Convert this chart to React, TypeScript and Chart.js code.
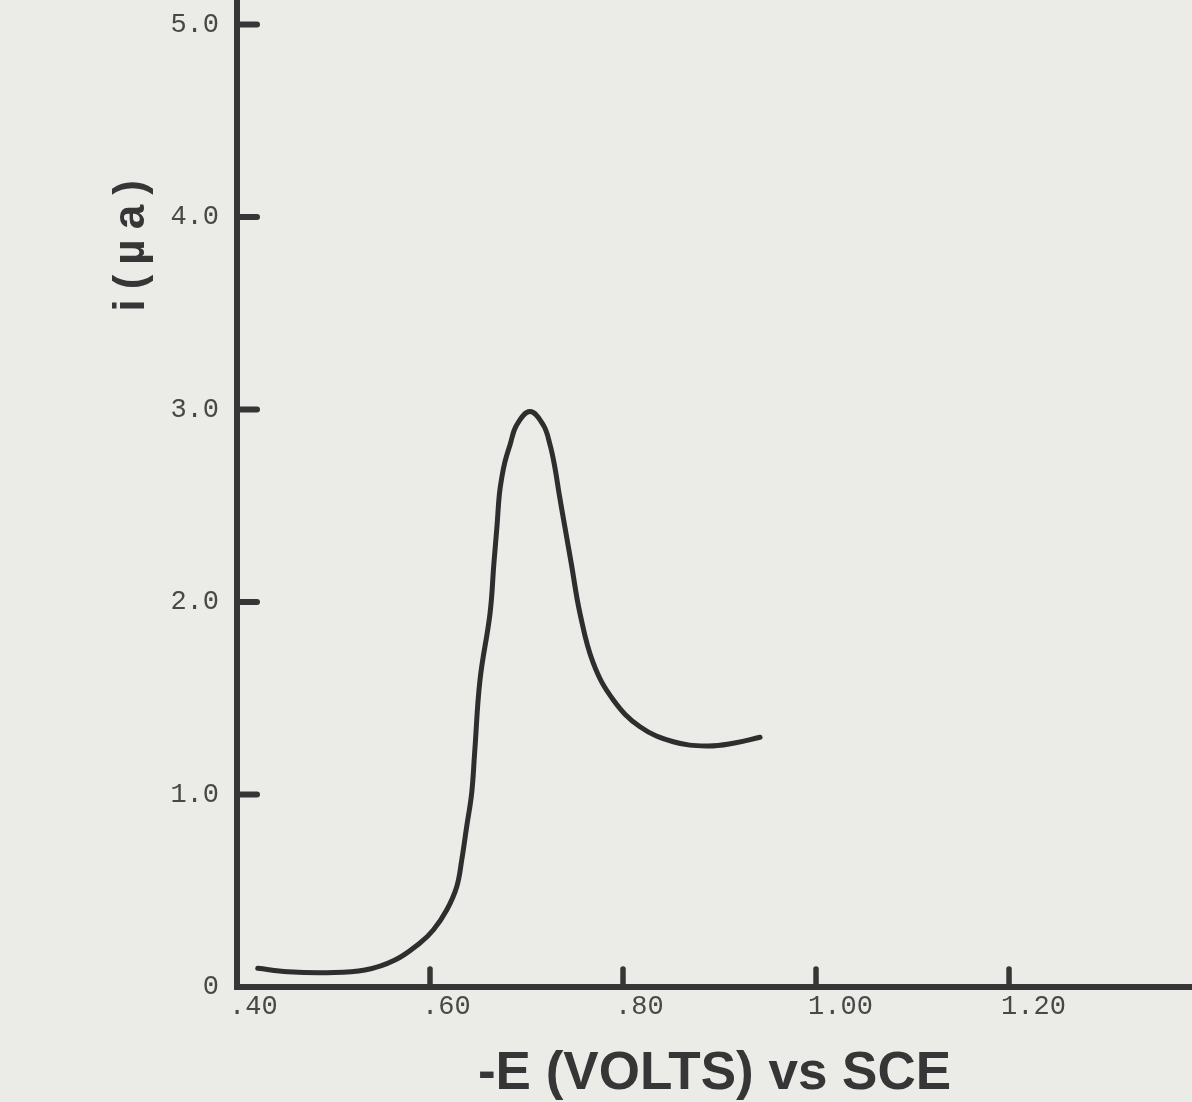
import React, { useEffect, useRef } from 'react';
import { Chart, registerables } from 'chart.js';

Chart.register(...registerables);

// Polarogram: -E (volts vs SCE) against current i (µA)
const potentialV = [
  0.4215, 0.4528, 0.4933, 0.5326, 0.5637, 0.5896, 0.6034, 0.6173, 0.6277, 0.6329,
  0.638, 0.6432, 0.6463, 0.6518, 0.6622, 0.6662, 0.6695, 0.6718, 0.6743, 0.6777,
  0.6829, 0.6898, 0.7036, 0.7174, 0.7244, 0.7295, 0.734, 0.7394, 0.7464, 0.7554,
  0.7692, 0.79, 0.8176, 0.8521, 0.8867, 0.9143, 0.942,
];
const currentUA = [
  0.097, 0.079, 0.074, 0.088, 0.14, 0.229, 0.296, 0.4, 0.521, 0.66,
  0.833, 1.008, 1.22, 1.595, 1.941, 2.2, 2.4, 2.556, 2.644, 2.729,
  2.816, 2.919, 2.989, 2.919, 2.816, 2.696, 2.556, 2.4, 2.2, 1.941,
  1.682, 1.491, 1.352, 1.274, 1.252, 1.266, 1.297,
];

const xTickValues = [0.4, 0.6, 0.8, 1.0, 1.2];
const xTickLabels = ['.40', '.60', '.80', '1.00', '1.20'];
const yTickValues = [0, 1, 2, 3, 4, 5];
const yTickLabels = ['0', '1.0', '2.0', '3.0', '4.0', '5.0'];

const xTitle = '-E (VOLTS) vs SCE';
const yTitle = 'i(µa)';

const X_MIN = 0.4;
const X_MAX = 1.3896;
const Y_MIN = 0;
const Y_MAX = 5.127;

const PAPER = '#ebebe7';
const INK = '#363636';
const LABEL_INK = '#484848';

const W = 1192;
const CANVAS_H = 1127;
const CANVAS_TOP = -25;

function labelFor(values: number[], labels: string[], v: number): string {
  for (let i = 0; i < values.length; i++) {
    if (Math.abs(values[i] - v) < 1e-6) return labels[i];
  }
  return '';
}

const innerTicks = {
  id: 'innerTicks',
  afterDraw(chart: any) {
    const { ctx, chartArea, scales } = chart;
    ctx.save();
    ctx.strokeStyle = INK;
    ctx.lineCap = 'round';
    ctx.lineWidth = 6;
    for (const t of scales.y.ticks) {
      if (t.value <= Y_MIN + 1e-6) continue;
      const py = scales.y.getPixelForValue(t.value);
      ctx.beginPath();
      ctx.moveTo(chartArea.left, py);
      ctx.lineTo(chartArea.left + 20, py);
      ctx.stroke();
    }
    ctx.lineWidth = 5.5;
    for (const t of scales.x.ticks) {
      if (t.value <= X_MIN + 1e-6) continue;
      const px = scales.x.getPixelForValue(t.value);
      ctx.beginPath();
      ctx.moveTo(px, chartArea.bottom);
      ctx.lineTo(px, chartArea.bottom - 18);
      ctx.stroke();
    }
    ctx.restore();
  },
};

const yTitlePlugin = {
  id: 'yTitlePlugin',
  afterDraw(chart: any) {
    const { ctx, scales } = chart;
    const cy = scales.y.getPixelForValue(3.85);
    ctx.save();
    ctx.translate(144, cy);
    ctx.rotate(-Math.PI / 2);
    ctx.fillStyle = INK;
    ctx.font = 'bold 44px "Liberation Sans", Arial, sans-serif';
    try {
      (ctx as any).letterSpacing = '10px';
    } catch (e) {}
    ctx.textAlign = 'center';
    ctx.textBaseline = 'alphabetic';
    ctx.fillText(yTitle, 5, 0);
    ctx.restore();
  },
};

export default function App() {
  const canvasRef = useRef<HTMLCanvasElement | null>(null);

  useEffect(() => {
    const canvas = canvasRef.current;
    if (!canvas) return;
    const points = potentialV.map((v, i) => ({ x: v, y: currentUA[i] }));
    const chart = new Chart(canvas, {
      type: 'scatter',
      data: {
        datasets: [
          {
            data: points,
            showLine: true,
            borderColor: '#2e2e2e',
            borderWidth: 5,
            borderCapStyle: 'round',
            borderJoinStyle: 'round',
            pointRadius: 0,
            pointHoverRadius: 0,
            tension: 0.4,
            fill: false,
          } as any,
        ],
      },
      options: {
        animation: false,
        responsive: false,
        events: [],
        layout: { padding: 0, autoPadding: false } as any,
        plugins: {
          legend: { display: false },
          tooltip: { enabled: false },
        },
        scales: {
          x: {
            type: 'linear',
            min: X_MIN,
            max: X_MAX,
            grid: { display: false },
            border: { display: true, color: INK, width: 6 },
            ticks: {
              stepSize: 0.2,
              includeBounds: false,
              autoSkip: false,
              maxRotation: 0,
              align: 'start',
              labelOffset: -8,
              padding: -3,
              color: LABEL_INK,
              font: { family: '"Liberation Mono", monospace', size: 27, lineHeight: 30 / 27 },
              callback: (v: any) => labelFor(xTickValues, xTickLabels, Number(v)),
            },
            title: {
              display: true,
              text: xTitle,
              color: INK,
              font: { family: '"Liberation Sans", Arial, sans-serif', size: 53, weight: 'bold', lineHeight: 1 },
              padding: { top: 0, bottom: 1 },
            },
            afterFit: (s: any) => {
              s.height = 115;
            },
          } as any,
          y: {
            type: 'linear',
            min: Y_MIN,
            max: Y_MAX,
            grid: { display: false },
            border: { display: true, color: INK, width: 6 },
            ticks: {
              stepSize: 1,
              includeBounds: false,
              autoSkip: false,
              padding: 10,
              color: LABEL_INK,
              font: { family: '"Liberation Mono", monospace', size: 27, lineHeight: 30 / 27 },
              callback: (v: any) => labelFor(yTickValues, yTickLabels, Number(v)),
            },
            afterFit: (s: any) => {
              s.width = 237;
            },
          } as any,
        },
      },
      plugins: [innerTicks, yTitlePlugin],
    });
    return () => {
      chart.destroy();
    };
  }, []);

  return (
    <div
      style={{
        position: 'fixed',
        left: 0,
        top: 0,
        width: W,
        height: 1102,
        overflow: 'hidden',
        background: PAPER,
      }}
    >
      <canvas
        ref={canvasRef}
        width={W}
        height={CANVAS_H}
        style={{ position: 'absolute', left: 0, top: CANVAS_TOP, width: W, height: CANVAS_H }}
      />
    </div>
  );
}
